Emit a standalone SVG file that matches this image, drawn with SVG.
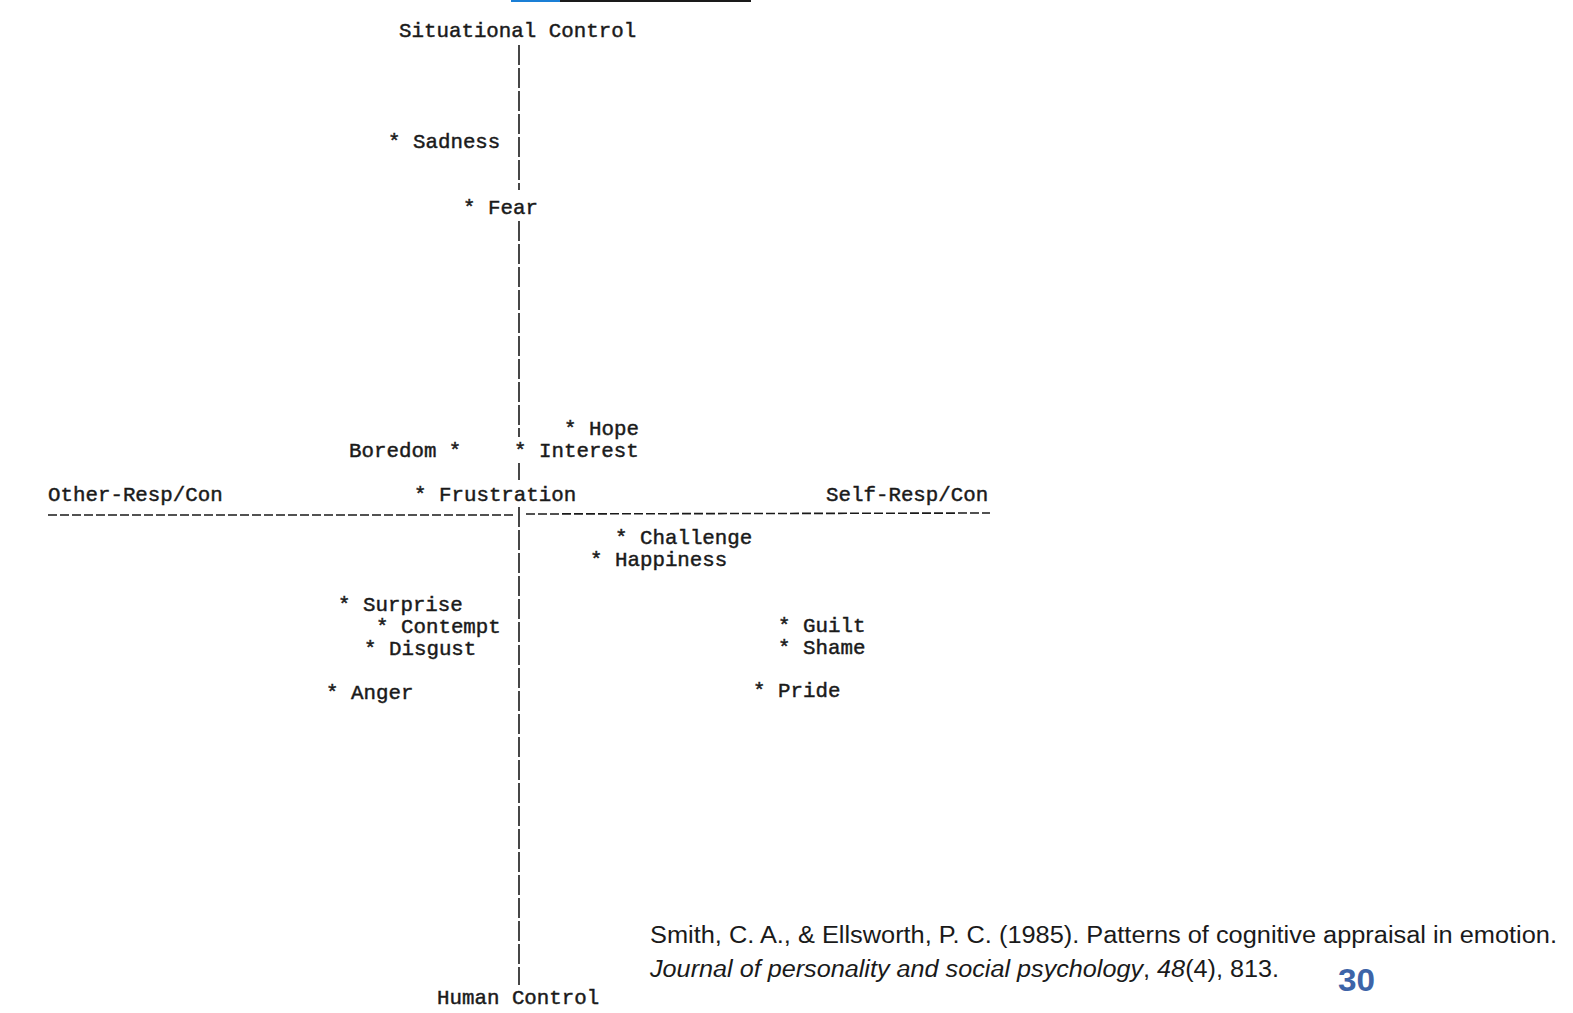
<svg xmlns="http://www.w3.org/2000/svg" width="1573" height="1013" viewBox="0 0 1573 1013">
<style>
.t{font-family:"Liberation Mono","DejaVu Sans Mono",monospace;font-size:20.8px;fill:#1a1a1a;stroke:#1a1a1a;stroke-width:0.45px;white-space:pre}
.ax{stroke:#1a1a1a;stroke-width:1.6;fill:none}
.v{stroke-dasharray:20 3}
.cite{font-family:"Liberation Sans","Open Sans",sans-serif;font-size:23px;fill:#1a1a1a}
</style>
<rect width="1573" height="1013" fill="#ffffff"/>
<g id="topbar">
<line x1="511" y1="1" x2="560" y2="1" stroke="#1a7fd6" stroke-width="2"/>
<line x1="560" y1="1" x2="751" y2="1" stroke="#1a1a1a" stroke-width="2"/>
</g>
<g id="connectors">
<line class="ax v" x1="519" y1="45" x2="519" y2="190"/>
<line class="ax v" x1="519" y1="221" x2="519" y2="437"/>
<line class="ax" x1="519" y1="463" x2="519" y2="480"/>
<line class="ax v" x1="519" y1="507" x2="519" y2="985"/>
<line class="ax" x1="48" y1="515" x2="513" y2="515" stroke-dasharray="9 3"/>
<line class="ax" x1="526" y1="514" x2="990" y2="513" stroke-dasharray="9 3"/>
</g>
<g id="axis-top"><text class="t" x="399" y="37">Situational Control</text></g>
<g id="axis-bottom"><text class="t" x="437" y="1004">Human Control</text></g>
<g id="axis-left"><text class="t" x="48" y="501">Other-Resp/Con</text></g>
<g id="axis-right"><text class="t" x="826" y="501">Self-Resp/Con</text></g>
<g id="sadness"><text class="t" x="388" y="148">* Sadness</text></g>
<g id="fear"><text class="t" x="463" y="214">* Fear</text></g>
<g id="hope"><text class="t" x="564" y="435">* Hope</text></g>
<g id="boredom"><text class="t" x="349" y="457">Boredom *</text></g>
<g id="interest"><text class="t" x="514" y="457">* Interest</text></g>
<g id="frustration"><text class="t" x="414" y="501">* Frustration</text></g>
<g id="challenge"><text class="t" x="615" y="544">* Challenge</text></g>
<g id="happiness"><text class="t" x="590" y="566">* Happiness</text></g>
<g id="surprise"><text class="t" x="338" y="611">* Surprise</text></g>
<g id="contempt"><text class="t" x="376" y="633">* Contempt</text></g>
<g id="disgust"><text class="t" x="364" y="655">* Disgust</text></g>
<g id="anger"><text class="t" x="326" y="699">* Anger</text></g>
<g id="guilt"><text class="t" x="778" y="632">* Guilt</text></g>
<g id="shame"><text class="t" x="778" y="654">* Shame</text></g>
<g id="pride"><text class="t" x="753" y="697">* Pride</text></g>
<g id="citation">
<text class="cite" x="650" y="943" textLength="907" lengthAdjust="spacingAndGlyphs">Smith, C. A., &amp; Ellsworth, P. C. (1985). Patterns of cognitive appraisal in emotion.</text>
<text class="cite" x="650" y="977" textLength="629" lengthAdjust="spacingAndGlyphs"><tspan font-style="italic">Journal of personality and social psychology</tspan>, <tspan font-style="italic">48</tspan>(4), 813.</text>
</g>
<g id="page-number"><text x="1338" y="991" font-family="Liberation Sans Narrow,Liberation Sans,sans-serif" font-size="32" font-weight="bold" fill="#3d64a8" textLength="37" lengthAdjust="spacingAndGlyphs">30</text></g>
</svg>
